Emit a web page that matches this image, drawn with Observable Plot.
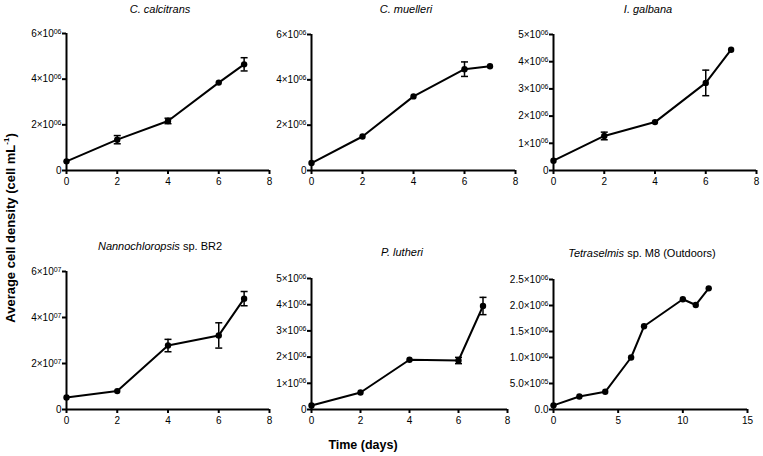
<!DOCTYPE html>
<html><head><meta charset="utf-8">
<script src="https://cdn.jsdelivr.net/npm/d3@7"></script>
<script src="https://cdn.jsdelivr.net/npm/@observablehq/plot@0.6"></script>
<style>
body{margin:0;background:#fff;font-family:"Liberation Sans",Arial,sans-serif;}
#wrap{position:relative;width:763px;height:456px;overflow:hidden;background:#fff;}
.panel{position:absolute;}
.title{position:absolute;font-size:11px;transform:translate(-50%,-50%);white-space:nowrap;color:#000;}
.ylab{position:absolute;left:10px;top:228px;transform:translate(-50%,-50%) rotate(-90deg);font-weight:bold;font-size:13px;white-space:nowrap;}
.xlab{position:absolute;left:363px;top:445px;transform:translate(-50%,-50%);font-weight:bold;font-size:12.5px;white-space:nowrap;}
sup{font-size:8px;}
</style></head><body><div id="wrap"></div>
<script>
// ---- data ----
const calcDays = [0, 2, 4, 6, 7];
const calcMean = [0.40e6, 1.35e6, 2.17e6, 3.85e6, 4.65e6];
const calcErr  = [0, 0.18e6, 0.12e6, 0, 0.29e6];

const muelDays = [0, 2, 4, 6, 7];
const muelMean = [0.33e6, 1.50e6, 3.27e6, 4.47e6, 4.60e6];
const muelErr  = [0, 0, 0, 0.32e6, 0];

const galbDays = [0, 2, 4, 6, 7];
const galbMean = [0.36e6, 1.27e6, 1.78e6, 3.22e6, 4.44e6];
const galbErr  = [0, 0.14e6, 0, 0.47e6, 0];

const nannDays = [0, 2, 4, 6, 7];
const nannMean = [0.52e7, 0.80e7, 2.78e7, 3.22e7, 4.82e7];
const nannErr  = [0, 0, 0.27e7, 0.55e7, 0.31e7];

const lutDays = [0, 2, 4, 6, 7];
const lutMean = [0.15e6, 0.65e6, 1.90e6, 1.87e6, 3.95e6];
const lutErr  = [0, 0, 0, 0.12e6, 0.33e6];

const tetDays = [0, 2, 4, 6, 7, 10, 11, 12];
const tetMean = [0.08e6, 0.25e6, 0.34e6, 1.00e6, 1.60e6, 2.12e6, 2.01e6, 2.33e6];
const tetErr  = [0, 0, 0, 0, 0, 0, 0, 0];

const xTicks8 = [0, 2, 4, 6, 8];
const xTicks15 = [0, 5, 10, 15];
const yTicks6e6 = [0, 2e6, 4e6, 6e6];
const yLabels6e6 = ["0", "2×10⁰⁶", "4×10⁰⁶", "6×10⁰⁶"];
const yTicks5e6 = [0, 1e6, 2e6, 3e6, 4e6, 5e6];
const yLabels5e6 = ["0", "1×10⁰⁶", "2×10⁰⁶", "3×10⁰⁶", "4×10⁰⁶", "5×10⁰⁶"];
const yTicks6e7 = [0, 2e7, 4e7, 6e7];
const yLabels6e7 = ["0", "2×10⁰⁷", "4×10⁰⁷", "6×10⁰⁷"];
const yTicks25 = [0, 5e5, 1e6, 1.5e6, 2e6, 2.5e6];
const yLabels25 = ["0.0", "5.0×10⁰⁵", "1.0×10⁰⁶", "1.5×10⁰⁶", "2.0×10⁰⁶", "2.5×10⁰⁶"];

const titles = [
  "<i>C. calcitrans</i>", "<i>C. muelleri</i>", "<i>I. galbana</i>",
  "<i>Nannochloropsis</i> sp. BR2", "<i>P. lutheri</i>", "<i>Tetraselmis</i> sp. M8 (Outdoors)"
];

// ---- layout ----
const panels = [
  {days: calcDays, mean: calcMean, err: calcErr, xd: [0, 8], xt: xTicks8, yd: [0, 6e6], yt: yTicks6e6, yl: yLabels6e6,
   left: 0, top: 18, ml: 66, mt: 15, mr: 12, w: 281, h: 177, tx: 160, ty: 9},
  {days: muelDays, mean: muelMean, err: muelErr, xd: [0, 8], xt: xTicks8, yd: [0, 6e6], yt: yTicks6e6, yl: yLabels6e6,
   left: 255, top: 18, ml: 56, mt: 16, mr: 12, w: 272, h: 177, tx: 406, ty: 9},
  {days: galbDays, mean: galbMean, err: galbErr, xd: [0, 8], xt: xTicks8, yd: [0, 5e6], yt: yTicks5e6, yl: yLabels5e6,
   left: 510, top: 18, ml: 43, mt: 16, mr: 7, w: 253, h: 177, tx: 648, ty: 9},
  {days: nannDays, mean: nannMean, err: nannErr, xd: [0, 8], xt: xTicks8, yd: [0, 6e7], yt: yTicks6e7, yl: yLabels6e7,
   left: 0, top: 258, ml: 66, mt: 13, mr: 12, w: 281, h: 176, tx: 160, ty: 246},
  {days: lutDays, mean: lutMean, err: lutErr, xd: [0, 8], xt: xTicks8, yd: [0, 5e6], yt: yTicks5e6, yl: yLabels5e6,
   left: 255, top: 258, ml: 56, mt: 20, mr: 12, w: 264, h: 176, tx: 402, ty: 252},
  {days: tetDays, mean: tetMean, err: tetErr, xd: [0, 15], xt: xTicks15, yd: [0, 2.5e6], yt: yTicks25, yl: yLabels25,
   left: 510, top: 258, ml: 43, mt: 21, mr: 10, w: 247, h: 176, tx: 642, ty: 253}
];

const capSymbol = {draw(ctx) { ctx.moveTo(-3.5, 0); ctx.lineTo(3.5, 0); }};
const wrap = document.getElementById("wrap");
const SUP = {"⁰": "0", "¹": "1", "²": "2", "³": "3", "⁴": "4", "⁵": "5", "⁶": "6", "⁷": "7", "⁸": "8", "⁹": "9"};
const NS = "http://www.w3.org/2000/svg";

panels.forEach((p, k) => {
  const data = p.days.map((d, i) => ({day: d, mean: p.mean[i], lo: p.mean[i] - p.err[i], hi: p.mean[i] + p.err[i], err: p.err[i]}));
  const errData = data.filter(d => d.err > 0);
  const labelMap = new Map(p.yt.map((v, i) => [v, p.yl[i]]));
  const chart = Plot.plot({
    width: p.w, height: p.h,
    marginLeft: p.ml, marginTop: p.mt, marginRight: p.mr, marginBottom: 25,
    x: {domain: p.xd, label: null},
    y: {domain: p.yd, label: null},
    style: {fontFamily: "'Liberation Sans', Arial, sans-serif", fontSize: "10px", background: "transparent", overflow: "visible", color: "#000"},
    marks: [
      Plot.ruleX([0], {stroke: "#000", strokeWidth: 2}),
      Plot.ruleY([0], {stroke: "#000", strokeWidth: 2}),
      Plot.axisX({ticks: p.xt, tickSize: 4, tickPadding: 3, strokeWidth: 2, label: null, tickFormat: d => String(d)}),
      Plot.axisY({ticks: p.yt, tickSize: 4, tickPadding: 1, strokeWidth: 2, label: null, tickFormat: d => labelMap.get(d)}),
      Plot.line(data, {x: "day", y: "mean", stroke: "#000", strokeWidth: 2}),
      Plot.ruleX(errData, {x: "day", y1: "lo", y2: "hi", stroke: "#000", strokeWidth: 1.5}),
      Plot.dot(errData, {x: "day", y: "lo", symbol: capSymbol, stroke: "#000", strokeWidth: 1.5, fill: "none"}),
      Plot.dot(errData, {x: "day", y: "hi", symbol: capSymbol, stroke: "#000", strokeWidth: 1.5, fill: "none"}),
      Plot.dot(data, {x: "day", y: "mean", r: 3.2, fill: "#000", stroke: "none"})
    ]
  });
  // render superscript exponents as raised tspans (still real text)
  chart.querySelectorAll("text").forEach(t => {
    const m = t.textContent.match(/^(.*?)([⁰¹²³⁴⁵⁶⁷⁸⁹]+)$/);
    if (!m) return;
    t.textContent = "";
    const a = document.createElementNS(NS, "tspan");
    a.textContent = m[1];
    const b = document.createElementNS(NS, "tspan");
    b.textContent = [...m[2]].map(c => SUP[c]).join("");
    b.setAttribute("dy", "-0.45em");
    b.setAttribute("font-size", "7");
    t.append(a, b);
  });
  const div = document.createElement("div");
  div.className = "panel";
  div.style.left = p.left + "px";
  div.style.top = p.top + "px";
  div.appendChild(chart);
  wrap.appendChild(div);

  const t = document.createElement("div");
  t.className = "title";
  t.style.left = p.tx + "px";
  t.style.top = p.ty + "px";
  t.innerHTML = titles[k];
  wrap.appendChild(t);
});

const yl = document.createElement("div");
yl.className = "ylab";
yl.innerHTML = "Average cell density (cell mL<sup>-1</sup>)";
wrap.appendChild(yl);
const xl = document.createElement("div");
xl.className = "xlab";
xl.textContent = "Time (days)";
wrap.appendChild(xl);
</script>
</body></html>
